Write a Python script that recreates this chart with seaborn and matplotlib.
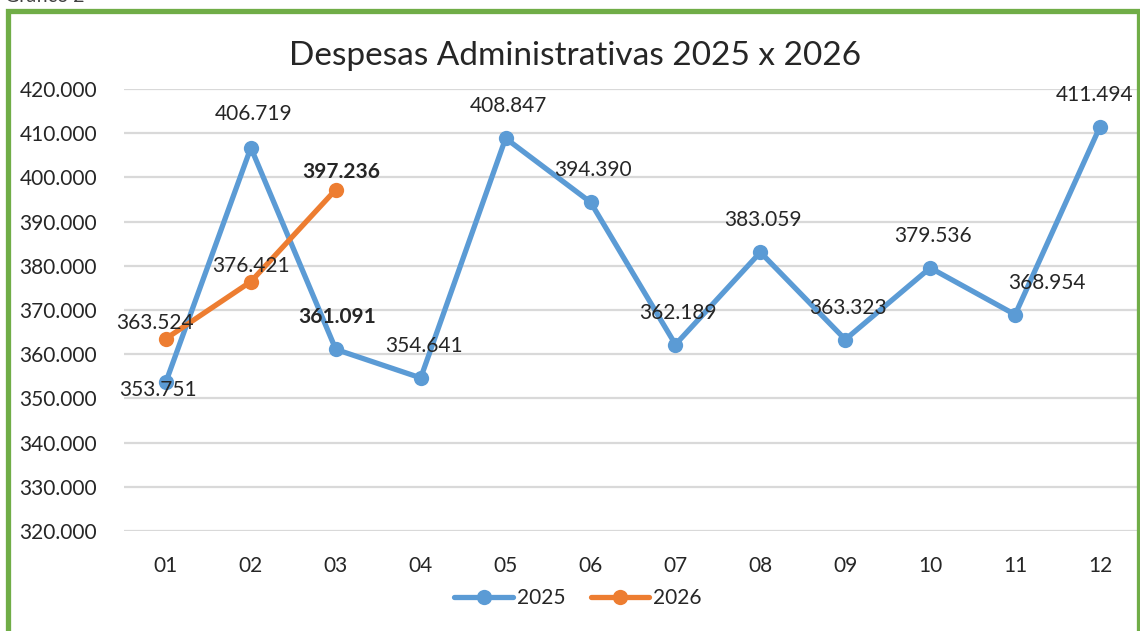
import pandas as pd
import matplotlib.pyplot as plt
import seaborn as sns
from matplotlib.patches import Rectangle

# Data
months = ['01', '02', '03', '04', '05', '06', '07', '08', '09', '10', '11', '12']
desp_2025 = [353751, 406719, 361091, 354641, 408847, 394390,
             362189, 383059, 363323, 379536, 368954, 411494]
desp_2026 = [363524, 376421, 397236]
y_ticks = [320000, 330000, 340000, 350000, 360000, 370000,
           380000, 390000, 400000, 410000, 420000]

# label offsets in points (dx, dy) and bold flags
off_2025 = [(-6, -6), (2, 24), (1, 23), (2, 23), (2, 23), (2, 23),
            (2, 23), (2, 23), (2, 23), (2, 23), (23, 23), (-4, 23)]
bold_2025 = [False, False, True] + [False] * 9
off_2026 = [(-8, 11), (0, 11), (4, 13)]
bold_2026 = [False, False, True]

blue = '#5B9BD5'
orange = '#ED7D31'


def fmt(v):
    return f"{v:,}".replace(',', '.')


df = pd.concat([
    pd.DataFrame({'mes': months, 'valor': desp_2025, 'ano': '2025'}),
    pd.DataFrame({'mes': months[:len(desp_2026)], 'valor': desp_2026, 'ano': '2026'}),
])
df['x'] = df['mes'].map({m: i for i, m in enumerate(months)})

sns.set_style('white')
plt.rcParams['font.family'] = ['Lato', 'DejaVu Sans']

fig = plt.figure(figsize=(11.4, 6.31), dpi=100)
ax = fig.add_axes([123.5 / 1140, 100 / 631, 1019 / 1140, 442 / 631])

sns.lineplot(data=df, x='x', y='valor', hue='ano', palette=[blue, orange],
             marker='o', markersize=11, markeredgewidth=0, linewidth=3.8,
             ax=ax, zorder=3)

ax.set_xlim(-0.5, 11.5)
ax.set_ylim(320000, 420000)
ax.set_xticks(range(len(months)))
ax.set_xticklabels(months, fontsize=15)
ax.set_yticks(y_ticks)
ax.set_yticklabels([fmt(v) for v in y_ticks], fontsize=15)
ax.tick_params(axis='both', length=0)
ax.tick_params(axis='y', pad=19)
ax.tick_params(axis='x', pad=18)
ax.grid(axis='y', color='#D9D9D9', linewidth=1.6)
ax.set_axisbelow(True)
for s in ax.spines.values():
    s.set_visible(False)
ax.set_xlabel('')
ax.set_ylabel('')

# data labels
for i, v in enumerate(desp_2025):
    ax.annotate(fmt(v), (i, v), xytext=off_2025[i], textcoords='offset points',
                ha='center', va='center', fontsize=15,
                fontweight='bold' if bold_2025[i] else 'normal')
for i, v in enumerate(desp_2026):
    ax.annotate(fmt(v), (i, v), xytext=off_2026[i], textcoords='offset points',
                ha='center', va='center', fontsize=15,
                fontweight='bold' if bold_2026[i] else 'normal')

fig.text(575 / 1140, 1 - 56 / 631, 'Despesas Administrativas 2025 x 2026',
         ha='center', va='center', fontsize=24)

handles, labels = ax.get_legend_handles_labels()
ax.legend(handles, labels, loc='center', bbox_to_anchor=(578 / 1140, 1 - 598 / 631),
          bbox_transform=fig.transFigure, ncol=2, frameon=False, fontsize=15,
          handlelength=2.8, handletextpad=0.2, columnspacing=1.2)

# green chart frame and cut-off caption
fig.patches.append(Rectangle((7.5 / 1140, -0.2), 1131 / 1140, 1.2 - 10.5 / 631,
                             transform=fig.transFigure, fill=False,
                             edgecolor='#70AD47', linewidth=3.8, zorder=10))
fig.text(5 / 1140, 1 + 4 / 631, 'Gráfico 2', ha='left', va='center',
         fontsize=14, color='#404040')

fig.savefig('out.png', dpi=100)
